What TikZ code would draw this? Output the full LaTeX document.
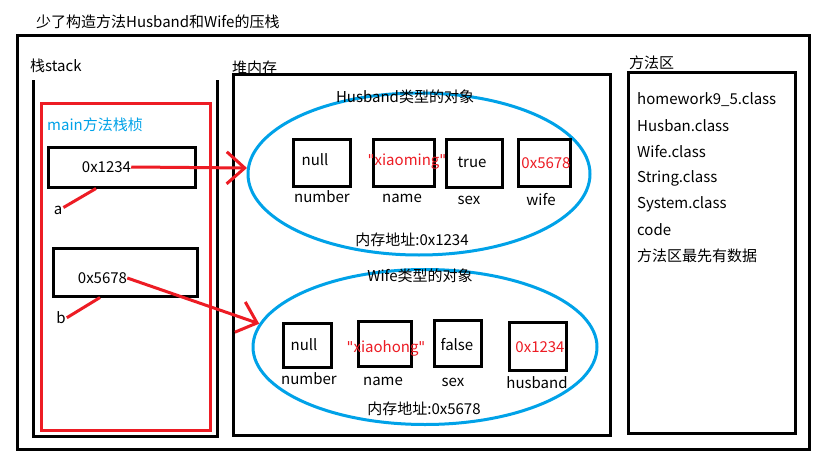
\documentclass[tikz,border=0pt]{standalone}
\usepackage{fontspec}
\setmainfont{Noto Sans CJK SC}
\newfontfamily\qfont{DejaVu Sans}
\newcommand{\sq}{{\qfont\symbol{34}}}
\usetikzlibrary{shapes.geometric,arrows.meta,calc}
\definecolor{pred}{RGB}{237,28,36}
\definecolor{pblue}{RGB}{0,162,232}
\begin{document}
\begin{tikzpicture}[x=1pt,y=-1pt,
  font=\fontsize{15}{18}\selectfont,
  frame/.style={draw=black, line width=3pt, inner sep=0pt},
  cell/.style={draw=black, line width=3pt, inner sep=0pt},
  txt/.style={inner sep=0pt, anchor=center},
  ltxt/.style={inner sep=0pt, anchor=west},
  rtxt/.style={inner sep=0pt, anchor=center, text=pred},
  obj/.style={ellipse, draw=pblue, line width=3pt, inner sep=0pt},
  redline/.style={draw=pred, line width=3pt},
  ptr/.style={redline, -{Straight Barb[length=18pt,width=32pt]}}
]
\useasboundingbox[fill=white] (0,0) rectangle (819,460);

% title
\node[ltxt] (title) at (36,22) {少了构造方法Husband和Wife的压栈};
% outer frame
\node[frame, minimum width=792, minimum height=413] (outer) at (413,242.5) {};

% stack
\node[ltxt] (stacklbl) at (30,66) {栈stack};
\coordinate (stl) at (33,80);
\coordinate (str) at (217,80);
\draw[line width=3pt] (stl) -- (33,436) -- (217,436) -- (str);
\node[draw=pred, line width=3pt, inner sep=0pt, minimum width=169, minimum height=327] (frameRed) at (125.5,266.5) {};
\node[ltxt, text=pblue] (mainlbl) at (47,125) {main方法栈桢};

\node[cell, minimum width=147, minimum height=40] (boxA) at (121.5,167) {};
\node[txt] (aval) at (106.5,167) {0x1234};
\node[txt] (alabel) at (58,210) {a};
\draw[redline] ($(alabel.north east)+(1,2)$) -- ($(boxA.south west)!0.33!(boxA.south east)$);

\node[cell, minimum width=144, minimum height=48] (boxB) at (125,272) {};
\node[txt] (bval) at (102.5,278) {0x5678};
\node[txt] (blabel) at (61,318) {b};
\draw[redline] ($(blabel.north east)+(1,6)$) -- ($(boxB.south west)!0.33!(boxB.south east)$);

% heap
\node[ltxt] (heaplbl) at (232,68) {堆内存};
\node[frame, minimum width=377, minimum height=360] (heap) at (421.5,255) {};

% Husband object
\node[obj, minimum width=342, minimum height=162] (hEll) at (419,174) {};
\node[txt] (htitle) at (405,97) {Husband类型的对象};
\node[cell, minimum width=57, minimum height=47] (hNum) at (321.5,162.5) {};
\node[txt] at (315,160) {null};
\node[txt] (hNumL) at (322,197) {number};
\node[cell, minimum width=61, minimum height=47] (hName) at (403.5,162.5) {};
\node[rtxt] at (407,162) {\sq xiaoming\sq};
\node[txt] (hNameL) at (402,198) {name};
\node[cell, minimum width=56, minimum height=48] (hSex) at (474,163) {};
\node[txt] at (472,162) {true};
\node[txt] (hSexL) at (469,200) {sex};
\node[cell, minimum width=52, minimum height=47] (hWife) at (544,162.5) {};
\node[rtxt] at (546,163) {0x5678};
\node[txt] (hWifeL) at (541,200) {wife};
\node[txt] (haddr) at (412,240) {内存地址:0x1234};

% Wife object
\node[obj, minimum width=344, minimum height=155] (wEll) at (425,347) {};
\node[txt] (wtitle) at (420,276) {Wife类型的对象};
\node[cell, minimum width=48, minimum height=44] (wNum) at (307,345) {};
\node[txt] at (304,345) {null};
\node[txt] (wNumL) at (309,379) {number};
\node[cell, minimum width=53, minimum height=45] (wName) at (384.5,343.5) {};
\node[rtxt] at (386,348) {\sq xiaohong\sq};
\node[txt] (wNameL) at (383,381) {name};
\node[cell, minimum width=47, minimum height=46] (wSex) at (457.5,343) {};
\node[txt] at (457,345) {false};
\node[txt] (wSexL) at (453,382) {sex};
\node[cell, minimum width=57, minimum height=48] (wHus) at (537.5,346) {};
\node[rtxt] at (540,347) {0x1234};
\node[txt] (wHusL) at (537,383) {husband};
\node[txt] (waddr) at (424,409) {内存地址:0x5678};

% pointers
\draw[ptr] (aval.east) -- (hEll.178);
\draw[ptr] (bval.east) -- (wEll.172);

% method area
\node[ltxt] (methlbl) at (629,63) {方法区};
\node[frame, minimum width=167, minimum height=360] (meth) at (711.5,253) {};
\node[ltxt] at (637,100) {homework9\_5.class};
\node[ltxt] at (637,126) {Husban.class};
\node[ltxt] at (637,152) {Wife.class};
\node[ltxt] at (637,178) {String.class};
\node[ltxt] at (637,204) {System.class};
\node[ltxt] at (637,230) {code};
\node[ltxt] at (637,256) {方法区最先有数据};
\end{tikzpicture}
\end{document}
